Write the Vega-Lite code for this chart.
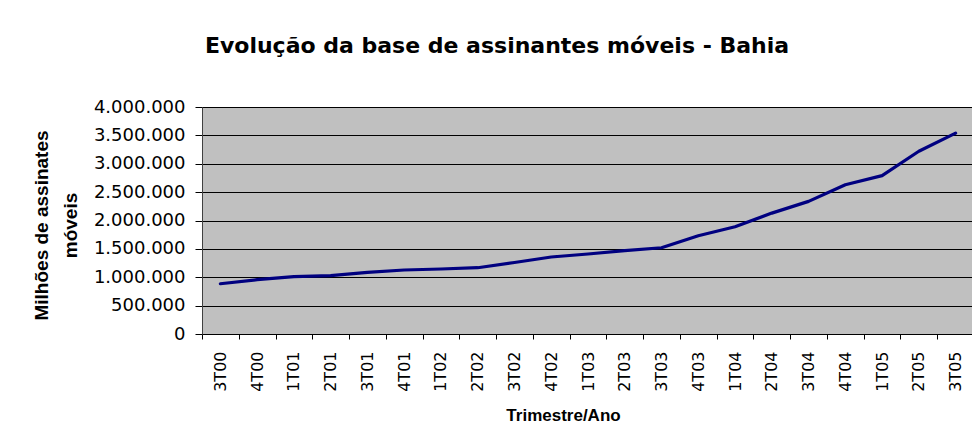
{
  "$schema": "https://vega.github.io/schema/vega-lite/v6.json",
  "autosize": "none",
  "width": 772,
  "height": 227,
  "padding": {"left": 202, "top": 107, "right": 0, "bottom": 113},
  "background": "white",
  "title": {
    "text": "Evolução da base de assinantes móveis - Bahia",
    "font": "DejaVu Sans",
    "fontSize": 22,
    "fontWeight": "bold",
    "color": "black",
    "anchor": "middle",
    "dx": -91,
    "offset": 40
  },
  "config": {
    "locale": {"number": {"decimal": ",", "thousands": ".", "grouping": [3], "currency": ["R$", ""]}},
    "view": {"fill": "#C0C0C0", "stroke": "#808080", "strokeWidth": 1}
  },
  "data": {
    "values": [
      {"periodo": "3T00", "assinantes": 886000},
      {"periodo": "4T00", "assinantes": 957000},
      {"periodo": "1T01", "assinantes": 1010000},
      {"periodo": "2T01", "assinantes": 1027000},
      {"periodo": "3T01", "assinantes": 1086000},
      {"periodo": "4T01", "assinantes": 1128000},
      {"periodo": "1T02", "assinantes": 1145000},
      {"periodo": "2T02", "assinantes": 1168000},
      {"periodo": "3T02", "assinantes": 1260000},
      {"periodo": "4T02", "assinantes": 1357000},
      {"periodo": "1T03", "assinantes": 1410000},
      {"periodo": "2T03", "assinantes": 1468000},
      {"periodo": "3T03", "assinantes": 1520000},
      {"periodo": "4T03", "assinantes": 1732000},
      {"periodo": "1T04", "assinantes": 1890000},
      {"periodo": "2T04", "assinantes": 2130000},
      {"periodo": "3T04", "assinantes": 2337000},
      {"periodo": "4T04", "assinantes": 2630000},
      {"periodo": "1T05", "assinantes": 2790000},
      {"periodo": "2T05", "assinantes": 3220000},
      {"periodo": "3T05", "assinantes": 3540000}
    ]
  },
  "mark": {"type": "line", "color": "#000080", "strokeWidth": 3.2, "strokeJoin": "round", "strokeCap": "round"},
  "encoding": {
    "x": {
      "field": "periodo",
      "type": "ordinal",
      "sort": null,
      "scale": {"type": "band", "paddingInner": 0, "paddingOuter": 0},
      "axis": {
        "title": "Trimestre/Ano",
        "titleFont": "Liberation Sans",
        "titleFontSize": 17,
        "titleFontWeight": "bold",
        "titleColor": "black",
        "titleX": 361,
        "titleY": 81,
        "titleBaseline": "middle",
        "labelAngle": -90,
        "labelAlign": "right",
        "labelBaseline": "middle",
        "labelFont": "DejaVu Sans",
        "labelFontSize": 16,
        "labelColor": "black",
        "labelPadding": 12,
        "tickBand": "extent",
        "tickColor": "black",
        "tickSize": 5,
        "domainColor": "black",
        "grid": false
      }
    },
    "y": {
      "field": "assinantes",
      "type": "quantitative",
      "scale": {"domain": [0, 4000000], "nice": false},
      "axis": {
        "values": [0, 500000, 1000000, 1500000, 2000000, 2500000, 3000000, 3500000, 4000000],
        "format": ",d",
        "title": ["Milhões de assinates", "móveis"],
        "titleFont": "Liberation Sans",
        "titleFontSize": 19,
        "titleFontWeight": "bold",
        "titleColor": "black",
        "titleAngle": -90,
        "titleAlign": "center",
        "titleBaseline": "middle",
        "titleLineHeight": 29,
        "titleX": -161,
        "titleY": 118,
        "labelFont": "DejaVu Sans",
        "labelFontSize": 18,
        "labelColor": "black",
        "labelPadding": 10,
        "tickColor": "black",
        "tickSize": 7,
        "domainColor": "#404040",
        "gridColor": "black",
        "gridOpacity": 1,
        "gridWidth": 1
      }
    }
  }
}
